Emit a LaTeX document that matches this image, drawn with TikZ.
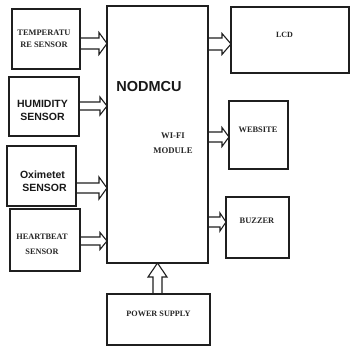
\documentclass[tikz,border=0pt]{standalone}
\usepackage{fontspec}
\setmainfont{Liberation Serif}
\newfontfamily\arialf{Liberation Sans}
\usetikzlibrary{calc}
\tikzset{
  box/.style={draw=black!88, line width=1.3pt, inner sep=0pt, outer sep=0pt, anchor=north west},
  arr/.style={draw=black!88, line width=1.1pt, line join=miter},
  serlab/.style={font=\fontsize{8.4}{12}\selectfont\bfseries, text=black!85, align=center, inner sep=0pt},
  sanlab/.style={font=\arialf\fontsize{10.5}{13.5}\selectfont\bfseries, text=black!90, align=center, inner sep=0pt}
}
% horizontal block arrow: from, to, y, shaft half, head half, head length
\newcommand\harrow[6]{%
  \draw[arr] (#1.east |- 0,#3-#4) -- ($(#2.west |- 0,#3-#4)+(-#6,0)$) -- ($(#2.west |- 0,#3-#5)+(-#6,0)$) -- (#2.west |- 0,#3)
    -- ($(#2.west |- 0,#3+#5)+(-#6,0)$) -- ($(#2.west |- 0,#3+#4)+(-#6,0)$) -- (#1.east |- 0,#3+#4);}
% vertical block arrow (upwards): from, to, x, shaft half, head half, head length
\newcommand\varrow[6]{%
  \draw[arr] (#3-#4,0 |- #1.north) -- ($(#3-#4,0 |- #2.south)+(0,#6)$) -- ($(#3-#5,0 |- #2.south)+(0,#6)$) -- (#3,0 |- #2.south)
    -- ($(#3+#5,0 |- #2.south)+(0,#6)$) -- ($(#3+#4,0 |- #2.south)+(0,#6)$) -- (#3+#4,0 |- #1.north);}
\begin{document}
\begin{tikzpicture}[x=1pt,y=-1pt]
\useasboundingbox (0,0) rectangle (351,346);
\fill[white] (0,0) rectangle (351,346);
% boxes
\node[box, minimum width=68pt, minimum height=60pt] (temp) at (12,9) {};
\node[box, minimum width=70pt, minimum height=59pt] (hum) at (9,77) {};
\node[box, minimum width=69pt, minimum height=60pt] (oxi) at (7,146) {};
\node[box, minimum width=70pt, minimum height=62pt] (heart) at (10,209) {};
\node[box, minimum width=101pt, minimum height=257pt] (mcu) at (107,6) {};
\node[box, minimum width=118pt, minimum height=66pt] (lcd) at (231,7) {};
\node[box, minimum width=59pt, minimum height=68pt] (web) at (229,101) {};
\node[box, minimum width=63pt, minimum height=61pt] (buzz) at (226,197) {};
\node[box, minimum width=103pt, minimum height=51pt] (power) at (107,294) {};
% labels
\node[serlab] (templ) at (44,39) {TEMPERATU\\RE SENSOR};
\node[sanlab] (huml) at (42.5,110.5) {HUMIDITY\\SENSOR};
\node[sanlab, font=\arialf\fontsize{10.5}{12.5}\selectfont\bfseries] (oxil) at (42.5,181) {Oximetet\\\hspace*{4pt}SENSOR};
\node[serlab, font=\fontsize{8.3}{15}\selectfont\bfseries] (heartl) at (42,244.5) {HEARTBEAT\\SENSOR};
\node[sanlab, font=\arialf\fontsize{14.5}{16}\selectfont\bfseries] (mcul) at (149,87) {NODMCU};
\node[serlab, font=\fontsize{8.7}{15}\selectfont\bfseries] (wifil) at (173,143.5) {WI-FI\\MODULE};
\node[serlab, font=\fontsize{8}{10}\selectfont\bfseries] (lcdl) at (284.5,35) {LCD};
\node[serlab] (webl) at (258,130) {WEBSITE};
\node[serlab] (buzzl) at (257,221) {BUZZER};
\node[serlab, font=\fontsize{8.2}{10}\selectfont\bfseries] (powerl) at (158.5,314) {POWER SUPPLY};
% arrows
\harrow{temp}{mcu}{43.5}{5.5}{11}{8}
\harrow{hum}{mcu}{106}{4}{9}{7}
\harrow{oxi}{mcu}{188}{5}{11}{8}
\harrow{heart}{mcu}{241}{4}{8.5}{7}
\harrow{mcu}{lcd}{44}{6}{10.5}{9}
\harrow{mcu}{web}{137}{5}{9.5}{7}
\harrow{mcu}{buzz}{222}{5}{9}{6}
\varrow{power}{mcu}{157.5}{4.5}{9.5}{14}
\end{tikzpicture}
\end{document}
